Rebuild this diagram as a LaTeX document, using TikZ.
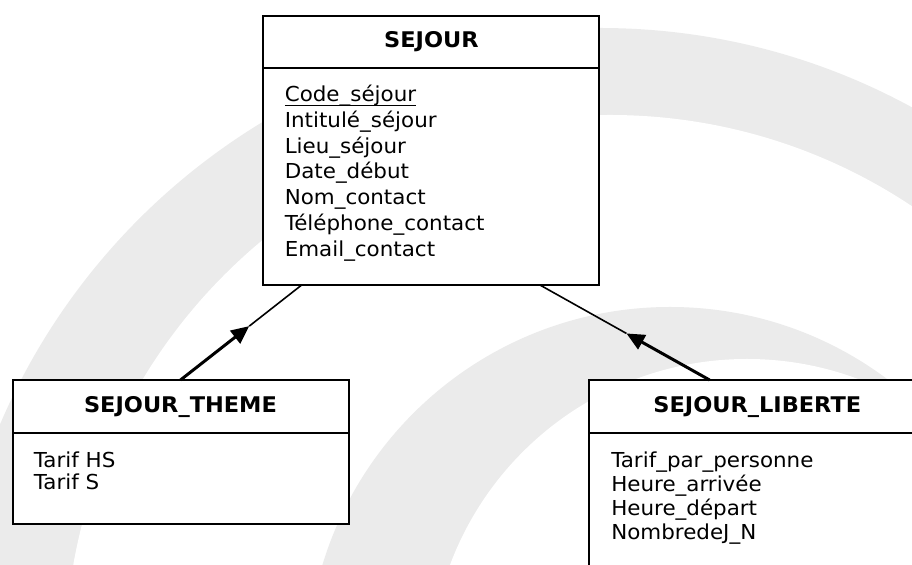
\documentclass[tikz,border=0pt]{standalone}
\usepackage{fontspec}
\setmainfont{DejaVu Sans}[FakeStretch=1.04]
\usepackage{tikz}
\usetikzlibrary{arrows.meta}
\usetikzlibrary{positioning}
\usetikzlibrary{calc}
\definecolor{watermark}{RGB}{235,235,235}
\newcommand{\pkey}[1]{\setbox0\hbox{#1}\rlap{\rule[-2.3pt]{\wd0}{0.6pt}}\box0}

\begin{document}
\begin{tikzpicture}[x=0.5pt, y=-0.5pt,
  entity/.style={draw, fill=white, line width=1pt, minimum width=168pt, inner sep=0pt, outer sep=0pt},
  entityhead/.style={entity, minimum height=26.75pt, font=\fontsize{10.8}{12}\selectfont\bfseries},
  attrlist/.style={align=left, inner sep=0pt, font=\fontsize{10.3}{#1}\selectfont},
  isa/.style={line width=1.5pt, -{Triangle[length=9pt, width=8pt]}},
  link/.style={line width=0.8pt}]
  \useasboundingbox (0,0) rectangle (912,565);
  \clip (0,0) rectangle (912,565);
  \foreach \cx/\cy/\r/\c in {600/680/326/watermark, 610/660/272.5/white,
                             670/670/181.5/watermark, 747/676/158.5/white} {
    \fill[\c] (\cx,\cy) circle[radius=\r pt];
  }

  \node[entityhead, minimum height=26pt] (sejour) at (431.4, 42) {SEJOUR};
  \node[entity, minimum height=108.5pt, below=0pt of sejour] (sejourbody) {};
  \node[attrlist=12.9pt, below right=8.3pt and 10.5pt of sejourbody.north west] (sejourattr)
    {\pkey{Code\_séjour}\\Intitulé\_séjour\\Lieu\_séjour\\Date\_début\\Nom\_contact\\Téléphone\_contact\\Email\_contact};

  \node[entityhead] (theme) at (180.5, 406.75) {SEJOUR\_THEME};
  \node[entity, minimum height=45.25pt, below=0pt of theme] (themebody) {};
  \node[attrlist=11pt, below right=8.9pt and 10.5pt of themebody.north west] (themeattr)
    {Tarif HS\\Tarif S};

  \node[entityhead] (liberte) at (757.3, 406.75) {SEJOUR\_LIBERTE};
  \node[entity, minimum height=100pt, below=0pt of liberte] (libertebody) {};
  \node[attrlist=12pt, below right=8.9pt and 10.8pt of libertebody.north west] (liberteattr)
    {Tarif\_par\_personne\\Heure\_arrivée\\Heure\_départ\\NombredeJ\_N};

  \coordinate (sejourfoot1) at ($(sejourbody.south west)!0.114!(sejourbody.south east)$);
  \coordinate (sejourfoot2) at ($(sejourbody.south west)!0.823!(sejourbody.south east)$);
  \coordinate (libertetop) at ($(liberte.north west)!0.358!(liberte.north east)$);
  \coordinate (themetip) at ($(theme.north)!0.567!(sejourfoot1)$);
  \coordinate (libertetip) at ($(libertetop)!0.49!(sejourfoot2)$);
  \draw[isa] (theme.north) -- (themetip);
  \draw[link] (themetip) -- (sejourfoot1);
  \draw[isa] (libertetop) -- (libertetip);
  \draw[link] (libertetip) -- (sejourfoot2);
\end{tikzpicture}
\end{document}
